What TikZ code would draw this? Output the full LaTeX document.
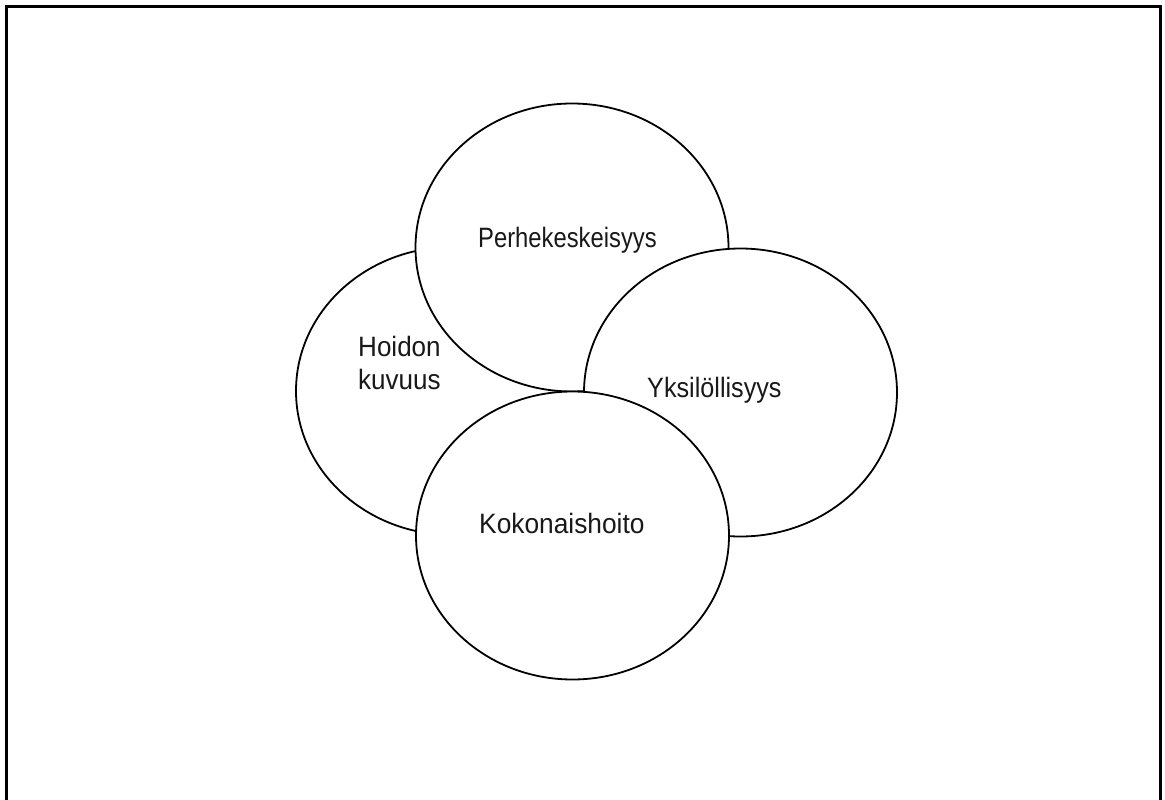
\documentclass[tikz,border=0pt]{standalone}
\usepackage{fontspec}
\setmainfont{Liberation Sans}
\usetikzlibrary{shapes.geometric}
\tikzset{
  bubble/.style={draw=black, fill=white, line width=1.8pt, ellipse, inner sep=0pt,
    minimum width=313pt, minimum height=288pt},
  lbl/.style={anchor=base west, inner sep=0pt, font=\fontsize{28}{33}\selectfont, text=black!90},
  frame/.style={draw=black, line width=3pt}
}
\begin{document}
\begin{tikzpicture}[x=1pt,y=-1pt]
\useasboundingbox (0,0) rectangle (1165,800);
% outer frame, open at the bottom
\coordinate (fbl) at (6.5,810);
\coordinate (ftl) at (6.5,6.5);
\coordinate (ftr) at (1160.5,6.5);
\coordinate (fbr) at (1160.5,810);
\draw[frame] (fbl) -- (ftl) -- (ftr) -- (fbr);
% ellipses, back to front
\node[bubble] (hoidon) at (452.5,391) {};
\node[bubble] (perhe) at (572,247.5) {};
\node[bubble] (yksi) at (740.5,392.5) {};
\node[bubble] (kokon) at (572.5,535.5) {};
% labels
\node[lbl] (tperhe) at (478,247) {\scalebox{0.85}[1]{Perhekeskeisyys}};
\node[lbl] (thoidon) at (358,356) {\scalebox{0.93}[1]{Hoidon}};
\node[lbl] (tkuvuus) at (358,389) {\scalebox{0.93}[1]{kuvuus}};
\node[lbl] (tyksi) at (647,397) {\scalebox{0.9}[1]{Yksilöllisyys}};
\node[lbl] (tkokon) at (479,533) {\scalebox{0.94}[1]{Kokonaishoito}};
\end{tikzpicture}
\end{document}
